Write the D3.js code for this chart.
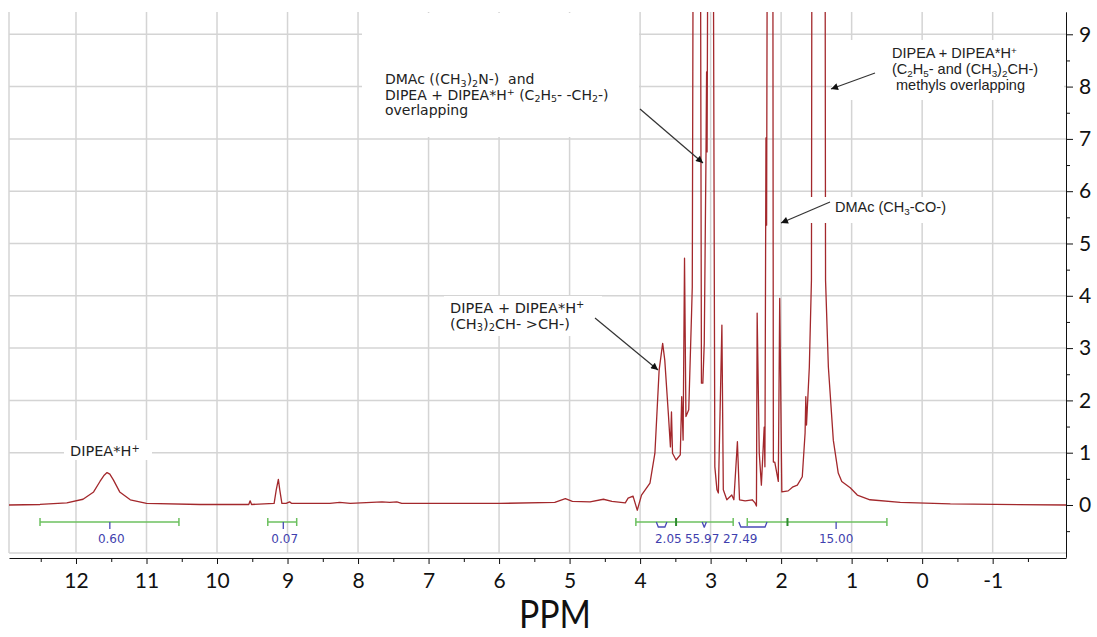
<!DOCTYPE html>
<html>
<head>
<meta charset="utf-8">
<script src="https://cdn.jsdelivr.net/npm/d3@7/dist/d3.min.js"></script>
<style>
body { margin: 0; background: #fff; }
</style>
</head>
<body>
<svg id="chart" width="1097" height="637"></svg>
<script>
// spectrum: chemical shift (ppm) and intensity
var shiftPpm = [12.95, 12.51, 12.13, 11.90, 11.75, 11.66, 11.60, 11.56, 11.52, 11.47, 11.38, 11.23, 11.00, 10.24,
    9.55, 9.53, 9.51, 9.19, 9.16, 9.13, 9.11, 9.08, 9.02, 8.97, 8.94, 8.40, 8.26, 8.11, 7.66, 7.55, 7.45, 7.38,
    5.99, 5.21, 5.06, 4.96, 4.71, 4.52, 4.40, 4.21, 4.17, 4.10, 4.04, 3.98, 3.86, 3.79, 3.73, 3.68, 3.65, 3.60,
    3.57, 3.555, 3.54, 3.49, 3.43, 3.41, 3.39, 3.37, 3.35, 3.31, 3.27, 3.26, 3.24, 3.20, 3.15, 3.13, 3.11, 3.09,
    3.065, 3.057, 3.05, 3.03, 3.00, 2.97, 2.94, 2.91, 2.89, 2.84, 2.82, 2.77, 2.70, 2.67, 2.62, 2.59, 2.51, 2.41,
    2.37, 2.35, 2.34, 2.31, 2.28, 2.24, 2.23, 2.215, 2.206, 2.19, 2.16, 2.12, 2.11, 2.09, 2.04, 2.02, 1.99, 1.90,
    1.84, 1.77, 1.70, 1.66, 1.65, 1.64, 1.60, 1.57, 1.56, 1.48, 1.38, 1.37, 1.33, 1.26, 1.19, 1.14, 1.02, 0.92,
    0.74, 0.31, -0.40, -2.04]
var intensity = [0, 0.01, 0.04, 0.11, 0.25, 0.45, 0.57, 0.62, 0.59, 0.48, 0.25, 0.10, 0.03, 0.01,
    0.01, 0.08, 0.01, 0.03, 0.29, 0.49, 0.29, 0.03, 0.03, 0.06, 0.03, 0.03, 0.05, 0.03, 0.06, 0.05, 0.06, 0.03,
    0.03, 0.05, 0.12, 0.07, 0.06, 0.11, 0.07, 0.04, 0.13, 0.17, -0.10, 0.19, 0.42, 0.99, 2.58, 3.09, 2.77, 1.76,
    1.11, 1.78, 0.99, 0.86, 0.96, 2.07, 1.24, 4.72, 1.69, 1.82, 3.67, 4.17, 15, 20, 15, 2.33, 2.33, 3.10,
    6.75, 8.28, 6.75, 15, 20, 15, 0.73, 0.29, 0.23, 3.44, 0.29, 0.10, 0.19, 0.10, 1.21, 0.10, 0.08, 0.10,
    0.04, -0.02, 3.67, 0.99, 0.38, 1.49, 0.73, 7.02, 5.35, 15, 20, 15, 0.82, 0.82, 0.45, 3.95, 0.25, 0.27,
    0.34, 0.38, 0.54, 1.38, 2.07, 1.53, 2.64, 4.30, 15, 25, 15, 4.30, 2.64, 1.24, 0.61, 0.45, 0.33, 0.19,
    0.10, 0.05, 0.02, 0]

var xTicks = [12, 11, 10, 9, 8, 7, 6, 5, 4, 3, 2, 1, 0, -1]
var yTicks = [0, 1, 2, 3, 4, 5, 6, 7, 8, 9]

// integration bars (ppm) and the values printed under them
var integralRanges = [[12.51, 10.54], [9.28, 8.87], [4.06, 2.68], [2.48, 0.50]]
var integralSplits = [3.49, 1.91]
var integralValues = ['0.60', '0.07', '2.05', '55.97', '27.49', '15.00']
var integralCenters = [11.50, 9.04, 3.60, 3.12, 2.58, 1.22]
var integralMarks = [[11.52, 11.52], [9.06, 9.06], [3.77, 3.62], [3.12, 3.06], [2.60, 2.20], [1.22, 1.22]]

var svg = d3.select('#chart')

var xScale = d3.scaleLinear().domain([12.95, -2.04]).range([9, 1066])
var yScale = d3.scaleLinear().domain([-1, 9.43]).range([557.3, 11.8])

var plotTop = 12, plotBottom = 553

svg.append('defs').append('clipPath').attr('id', 'plotClip')
    .append('rect')
    .attr('x', 9).attr('y', plotTop)
    .attr('width', 1057).attr('height', plotBottom - plotTop)

var arrowMarker = svg.select('defs').append('marker')
    .attr('id', 'arrow')
    .attr('viewBox', '0 0 10 10')
    .attr('refX', 10).attr('refY', 5)
    .attr('markerWidth', 10).attr('markerHeight', 7)
    .attr('markerUnits', 'userSpaceOnUse')
    .attr('orient', 'auto')
arrowMarker.append('path').attr('d', 'M0,0 L10,5 L0,10 Z').style('fill', '#111')

// grid
var grid = svg.append('g').attr('class', 'grid')
grid.selectAll('.vgrid')
    .data(xTicks)
    .enter()
    .append('line')
    .attr('x1', function (d) { return xScale(d) })
    .attr('x2', function (d) { return xScale(d) })
    .attr('y1', plotTop)
    .attr('y2', plotBottom)
    .style('stroke', '#d4d4d4')
    .style('stroke-width', 1.5)
grid.selectAll('.hgrid')
    .data(yTicks.slice(1))
    .enter()
    .append('line')
    .attr('x1', 9)
    .attr('x2', 1066)
    .attr('y1', function (d) { return yScale(d) })
    .attr('y2', function (d) { return yScale(d) })
    .style('stroke', '#d4d4d4')
    .style('stroke-width', 1.5)
grid.append('line')
    .attr('x1', 9).attr('x2', 1066)
    .attr('y1', plotBottom).attr('y2', plotBottom)
    .style('stroke', '#d4d4d4').style('stroke-width', 1.5)
grid.append('line')
    .attr('x1', 9).attr('x2', 9)
    .attr('y1', plotTop).attr('y2', plotBottom)
    .style('stroke', '#d4d4d4').style('stroke-width', 1.5)

// spectrum
var spectrum = shiftPpm.map(function (d, i) { return [d, intensity[i]] })
var lineGen = d3.line()
    .x(function (d) { return xScale(d[0]) })
    .y(function (d) { return yScale(d[1]) })
svg.append('path')
    .datum(spectrum)
    .attr('clip-path', 'url(#plotClip)')
    .attr('d', lineGen)
    .style('fill', 'none')
    .style('stroke', '#a3282c')
    .style('stroke-width', 1.3)
    .style('stroke-linejoin', 'round')

// integrals
var integralY = 522
var integrals = svg.append('g').attr('class', 'integrals')
integrals.selectAll('.ibar')
    .data(integralRanges)
    .enter()
    .append('line')
    .attr('x1', function (d) { return xScale(d[0]) })
    .attr('x2', function (d) { return xScale(d[1]) })
    .attr('y1', integralY).attr('y2', integralY)
    .style('stroke', '#6cc05f').style('stroke-width', 1.5)
integrals.selectAll('.iend')
    .data(d3.merge(integralRanges))
    .enter()
    .append('line')
    .attr('x1', function (d) { return xScale(d) })
    .attr('x2', function (d) { return xScale(d) })
    .attr('y1', integralY - 4).attr('y2', integralY + 4)
    .style('stroke', '#6cc05f').style('stroke-width', 1.5)
integrals.selectAll('.isplit')
    .data(integralSplits)
    .enter()
    .append('line')
    .attr('x1', function (d) { return xScale(d) })
    .attr('x2', function (d) { return xScale(d) })
    .attr('y1', integralY - 4).attr('y2', integralY + 4)
    .style('stroke', '#2e8b2e').style('stroke-width', 2)
integrals.selectAll('.imark')
    .data(integralMarks)
    .enter()
    .append('path')
    .attr('d', function (d) {
        var a = xScale(d[0]), b = xScale(d[1])
        if (b - a < 1) return 'M' + a + ',' + integralY + 'V' + (integralY + 7)
        return 'M' + a + ',' + integralY + 'L' + (a + 2) + ',' + (integralY + 5) +
            'H' + (b - 2) + 'L' + b + ',' + integralY
    })
    .style('fill', 'none')
    .style('stroke', '#4a4ab8').style('stroke-width', 1.3)
integrals.selectAll('.ilabel')
    .data(integralValues)
    .enter()
    .append('text')
    .attr('x', function (d, i) { return xScale(integralCenters[i]) })
    .attr('y', 543)
    .attr('text-anchor', 'middle')
    .style('font-family', 'DejaVu Sans, Verdana, sans-serif')
    .style('font-size', '12px')
    .style('fill', '#3f3fae')
    .text(function (d) { return d })

// annotations: white boxes that cover grid and peaks, text and arrows
// in the lines, _x is a subscript character and ^x a superscript one
var notes = [
    { box: [362, 13, 277, 124], x: 385, y: 84, lh: 15.5, font: 'DejaVu Sans', size: 14,
        lines: ['DMAc ((CH_3)_2N-)  and', 'DIPEA + DIPEA*H^+ (C_2H_5- -CH_2-)', 'overlapping'] },
    { box: [832, 40, 232, 60], x: 892, y: 58, lh: 16, font: 'Liberation Sans', size: 14.5,
        lines: ['DIPEA + DIPEA*H^+', '(C_2H_5- and (CH_3)_2CH-)', ' methyls overlapping'] },
    { box: [802, 197, 150, 26], x: 835, y: 212, lh: 16, font: 'Liberation Sans', size: 14.5,
        lines: ['DMAc (CH_3-CO-)'] },
    { box: [444, 296, 158, 40], x: 450, y: 312.5, lh: 16, font: 'DejaVu Sans', size: 14.5,
        lines: ['DIPEA + DIPEA*H^+', '(CH_3)_2CH- >CH-)'] },
    { box: [64, 440, 88, 20], x: 70, y: 456, lh: 16, font: 'DejaVu Sans', size: 14.5,
        lines: ['DIPEA*H^+'] }
]
var arrows = [[640, 109, 703, 163], [875, 73, 831, 89], [830, 202, 781, 223], [595, 318, 658, 370]]

function splitScripts(line) {
    var parts = []
    var re = /([_^])(.)|([^_^]+)/g
    var m
    while ((m = re.exec(line)) !== null) {
        if (m[3]) parts.push({ t: m[3], shift: 0 })
        else parts.push({ t: m[2], shift: m[1] === '_' ? 2.5 : -4.5 })
    }
    return parts
}

var noteG = svg.append('g').attr('class', 'notes')
noteG.selectAll('rect')
    .data(notes)
    .enter()
    .append('rect')
    .attr('x', function (d) { return d.box[0] })
    .attr('y', function (d) { return d.box[1] })
    .attr('width', function (d) { return d.box[2] })
    .attr('height', function (d) { return d.box[3] })
    .style('fill', '#fff')
notes.forEach(function (d) {
    d.lines.forEach(function (line, i) {
        var txt = noteG.append('text')
            .attr('x', d.x)
            .attr('y', d.y + i * d.lh)
            .style('font-family', d.font + ', sans-serif')
            .style('font-size', d.size + 'px')
            .style('fill', '#222')
            .style('white-space', 'pre')
        var prevShift = 0
        splitScripts(line).forEach(function (p) {
            var span = txt.append('tspan').text(p.t)
            if (p.shift !== prevShift) span.attr('dy', p.shift - prevShift)
            if (p.shift !== 0) span.style('font-size', (d.size * 0.68) + 'px')
            prevShift = p.shift
        })
    })
})
noteG.selectAll('line')
    .data(arrows)
    .enter()
    .append('line')
    .attr('x1', function (d) { return d[0] })
    .attr('y1', function (d) { return d[1] })
    .attr('x2', function (d) { return d[2] })
    .attr('y2', function (d) { return d[3] })
    .attr('marker-end', 'url(#arrow)')
    .style('stroke', '#333')
    .style('stroke-width', 1.2)

// axes
var axisFont = 'Lato, Carlito, sans-serif'
var xAxis = svg.append('g')
    .attr('transform', 'translate(0,558)')
    .call(d3.axisBottom(xScale).tickValues(xTicks).tickSize(6).tickSizeOuter(0).tickPadding(9)
        .tickFormat(function (d) { return String(d) }))
svg.append('g')
    .attr('transform', 'translate(0,558)')
    .call(d3.axisBottom(xScale).tickValues(d3.range(-1.5, 13, 1)).tickSize(4).tickSizeOuter(0)
        .tickFormat(''))
    .select('.domain').remove()
xAxis.selectAll('text')
    .style('font-family', axisFont)
    .style('font-size', '21px')
    .style('fill', '#111')

var yAxis = svg.append('g')
    .attr('transform', 'translate(1066,0)')
    .call(d3.axisRight(yScale).tickValues(yTicks).tickSize(7).tickSizeOuter(0).tickPadding(6))
svg.append('g')
    .attr('transform', 'translate(1066,0)')
    .call(d3.axisRight(yScale).tickValues(d3.range(-0.5, 9.4, 1)).tickSize(4).tickSizeOuter(0)
        .tickFormat(''))
    .select('.domain').remove()
yAxis.selectAll('text')
    .style('font-family', axisFont)
    .style('font-size', '21px')
    .style('fill', '#111')
svg.selectAll('.domain, .tick line').style('stroke', '#111')

svg.append('text')
    .attr('x', 555)
    .attr('y', 628)
    .attr('text-anchor', 'middle')
    .attr('textLength', 72)
    .attr('lengthAdjust', 'spacingAndGlyphs')
    .style('font-family', axisFont)
    .style('font-size', '38px')
    .style('fill', '#111')
    .text('PPM')
</script>
</body>
</html>
